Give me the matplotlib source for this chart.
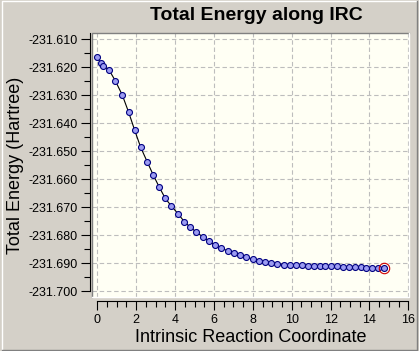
import matplotlib
matplotlib.use('Agg')
import matplotlib.pyplot as plt
from matplotlib.ticker import MultipleLocator, FormatStrFormatter

# IRC points
irc = [0.000, 0.175, 0.309, 0.617, 0.926, 1.286, 1.615, 1.924, 2.233, 2.572,
       2.881, 3.189, 3.498, 3.807, 4.167, 4.475, 4.784, 5.093, 5.453, 5.761,
       6.070, 6.379, 6.739, 7.047, 7.356, 7.665, 8.025, 8.333, 8.642, 8.951,
       9.259, 9.619, 9.928, 10.23, 10.53, 10.83, 11.13, 11.44, 11.73, 12.04,
       12.34, 12.64, 12.94, 13.24, 13.54, 13.84, 14.14, 14.44, 14.75]
energy = [-231.6164, -231.6186, -231.6194, -231.6211, -231.6248, -231.6299,
          -231.6361, -231.6425, -231.6486, -231.6538, -231.6585, -231.6628,
          -231.6668, -231.6695, -231.6724, -231.6751, -231.6771, -231.6788,
          -231.6807, -231.6821, -231.6836, -231.6846, -231.6856, -231.6864,
          -231.6871, -231.6878, -231.6885, -231.6891, -231.6894, -231.6898,
          -231.6901, -231.6904, -231.6905, -231.6906, -231.6907, -231.6908,
          -231.6908, -231.6909, -231.6910, -231.6910, -231.6911, -231.6912,
          -231.6913, -231.6913, -231.6914, -231.6915, -231.6916, -231.6917,
          -231.6918]

title = 'Total Energy along IRC'
xlabel = 'Intrinsic Reaction Coordinate'
ylabel = 'Total Energy (Hartree)'

bg = '#D4D0C8'
plot_bg = '#FFFFF4'

plt.rcParams['font.family'] = ['Liberation Sans', 'DejaVu Sans']

fig = plt.figure(figsize=(4.19, 3.51), dpi=100, facecolor=bg)
ax = fig.add_axes([92 / 419, 1 - 297 / 351, 317.3 / 419, 264 / 351])
ax.set_facecolor(plot_bg)

ax.set_xlim(-0.273, 16.05)
ax.set_ylim(-231.7020, -231.60775)

ax.grid(True, which='major', color='#BDBDBD', linestyle=(0, (4, 2.5)), linewidth=0.8)
ax.set_axisbelow(True)

ax.plot(irc, energy, color='black', linewidth=0.8, marker='o', markersize=4.3,
        markerfacecolor='#9C9CF2', markeredgecolor='#000080', markeredgewidth=0.8)
ax.plot(irc[-1], energy[-1], marker='o', markersize=7.5, markerfacecolor='none',
        markeredgecolor='#D00000', markeredgewidth=0.8, linestyle='none')

# axes spines act as separate axis lines outside the plot area
for s in ['top', 'right']:
    ax.spines[s].set_visible(False)
ax.spines['left'].set_position(('outward', 1.44))
ax.spines['left'].set_bounds(-231.700, -231.60775)
ax.spines['bottom'].set_position(('outward', 2.9))
ax.spines['bottom'].set_bounds(0, 16)
ax.spines['left'].set_linewidth(0.8)
ax.spines['bottom'].set_linewidth(0.8)

# sunken frame around the plot area
ax.plot([0, 0, 1], [0, 1, 1], transform=ax.transAxes, color='#808080', linewidth=1.0, clip_on=False)
ax.plot([0, 1, 1], [0, 0, 1], transform=ax.transAxes, color='white', linewidth=1.0, clip_on=False)

ax.xaxis.set_major_locator(MultipleLocator(2))
ax.xaxis.set_minor_locator(MultipleLocator(0.5))
ax.yaxis.set_major_locator(MultipleLocator(0.01))
ax.yaxis.set_minor_locator(MultipleLocator(0.005))
ax.yaxis.set_major_formatter(FormatStrFormatter('%.3f'))

ax.tick_params(axis='both', which='major', direction='out', length=6.5, width=0.8,
               labelsize=9, color='black')
ax.tick_params(axis='both', which='minor', direction='out', length=4, width=0.8)
ax.tick_params(axis='y', which='major', pad=2.5)
ax.tick_params(axis='x', which='major', pad=3)

ax.set_xlabel(xlabel, fontsize=13, labelpad=2)
ax.set_ylabel(ylabel, fontsize=13, labelpad=3)
fig.text(256 / 419, 1 - 16 / 351, title, fontsize=14, fontweight='bold',
         ha='center', va='center')

# window border
fig.add_artist(plt.Line2D([0.004, 0.004, 0.996], [0.004, 0.996, 0.996],
                          transform=fig.transFigure, color='white', linewidth=1))
fig.add_artist(plt.Line2D([0.004, 0.996, 0.996], [0.004, 0.004, 0.996],
                          transform=fig.transFigure, color='#808080', linewidth=1))

fig.savefig('out.png', dpi=100, facecolor=bg)
